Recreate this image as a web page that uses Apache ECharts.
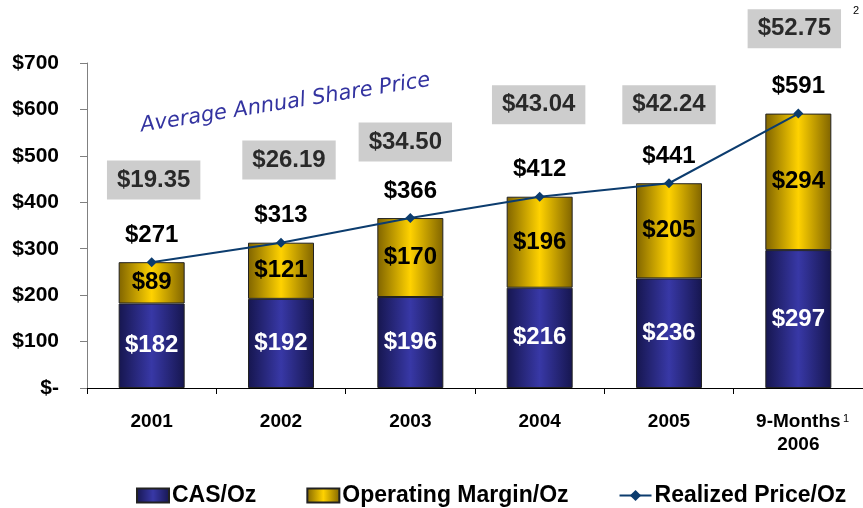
<!DOCTYPE html>
<html>
<head>
<meta charset="utf-8">
<script src="https://cdn.jsdelivr.net/npm/echarts@6/dist/echarts.min.js"></script>
<style>
html,body{margin:0;padding:0;background:#fff;}
#c{width:863px;height:508px;}
</style>
</head>
<body>
<div id="c"></div>
<script>
var categories = ['2001', '2002', '2003', '2004', '2005', '9-Months\n2006'];
var casOz = [182, 192, 196, 216, 236, 297];
var marginOz = [89, 121, 170, 196, 205, 294];
var realizedPrice = [271, 313, 366, 412, 441, 591];
var sharePrice = ['$19.35', '$26.19', '$34.50', '$43.04', '$42.24', '$52.75'];
var yTicks = [0, 100, 200, 300, 400, 500, 600, 700];

// layout for the share-price boxes (value-axis height and pixel nudge)
var boxLevel = [448, 491, 530, 610, 610, 774];
var boxNudge = [2, 8, -5, -1, 0, -4];

var chart = echarts.init(document.getElementById('c'));
var F = '"Liberation Sans", Arial, sans-serif';

function grad(edge, mid) {
  return new echarts.graphic.LinearGradient(0, 0, 1, 0, [
    {offset: 0, color: edge}, {offset: 0.5, color: mid}, {offset: 1, color: edge}
  ]);
}

var boxData = boxLevel.map(function (v, i) {
  return {
    value: [i, v],
    label: {formatter: sharePrice[i], offset: [boxNudge[i], 0]}
  };
});

chart.setOption({
  animation: false,
  grid: {left: 87, right: -4, top: 63, bottom: 120, containLabel: false},
  legend: {
    top: 479,
    left: 131,
    itemGap: 50,
    itemWidth: 32,
    itemHeight: 14,
    textStyle: {fontFamily: F, fontWeight: 'bold', fontSize: 23, color: '#000', padding: [0, 0, 0, -2]},
    data: [
      {name: 'CAS/Oz', icon: 'rect'},
      {name: 'Operating Margin/Oz', icon: 'rect'},
      {name: 'Realized Price/Oz'}
    ]
  },
  xAxis: {
    type: 'category',
    data: categories,
    axisLine: {lineStyle: {color: '#000', width: 1}},
    axisTick: {show: true, length: 6, lineStyle: {color: '#000'}},
    axisLabel: {
      fontFamily: F, fontWeight: 'bold', fontSize: 19, color: '#000',
      margin: 22, lineHeight: 23
    }
  },
  yAxis: {
    type: 'value',
    min: yTicks[0],
    max: yTicks[yTicks.length - 1],
    interval: 100,
    splitLine: {show: false},
    axisLine: {show: true, lineStyle: {color: '#808080'}},
    axisTick: {show: true, length: 7, lineStyle: {color: '#808080'}},
    axisLabel: {
      fontFamily: F, fontWeight: 'bold', fontSize: 21, color: '#000', margin: 28,
      formatter: function (v) { return v === 0 ? '$-' : '$' + v; }
    }
  },
  series: [
    {
      name: 'CAS/Oz',
      type: 'bar',
      stack: 'total',
      barWidth: 66,
      data: casOz,
      itemStyle: {color: grad('#16164f', '#3838a6'), borderColor: '#222', borderWidth: 1},
      label: {
        show: true, position: 'inside', color: '#fff',
        fontFamily: F, fontWeight: 'bold', fontSize: 24,
        formatter: function (p) { return '$' + p.value; }
      }
    },
    {
      name: 'Operating Margin/Oz',
      type: 'bar',
      stack: 'total',
      barWidth: 66,
      data: marginOz,
      itemStyle: {color: grad('#806400', '#ffd200'), borderColor: '#222', borderWidth: 1},
      label: {
        show: true, position: 'inside', color: '#000',
        fontFamily: F, fontWeight: 'bold', fontSize: 24,
        formatter: function (p) { return '$' + p.value; }
      }
    },
    {
      name: 'Realized Price/Oz',
      type: 'line',
      data: realizedPrice,
      z: 5,
      symbol: 'diamond',
      symbolSize: 10,
      lineStyle: {color: '#0c3c6e', width: 2},
      itemStyle: {color: '#0c3c6e'},
      label: {
        show: true, position: 'top', distance: 10, color: '#000',
        fontFamily: F, fontWeight: 'bold', fontSize: 24,
        formatter: function (p) { return '$' + p.value; }
      }
    },
    {
      name: 'share',
      type: 'scatter',
      data: boxData,
      symbolSize: 0,
      clip: false,
      silent: true,
      label: {
        show: true, position: 'inside',
        backgroundColor: '#c0c0c0',
        padding: [6, 10, 6, 10],
        color: '#000',
        fontFamily: F, fontWeight: 'bold', fontSize: 24, lineHeight: 27
      }
    }
  ],
  graphic: [
    {
      type: 'text', left: 139, top: 70, rotation: 9 * Math.PI / 180,
      style: {
        text: 'Average Annual Share Price',
        font: 'italic 21px "DejaVu Sans", Verdana, sans-serif',
        fill: '#3333a0'
      }
    },
    {
      type: 'text', left: 853, top: 5,
      style: {text: '2', font: '11px "Liberation Sans", Arial', fill: '#000'}
    },
    {
      type: 'text', left: 843, top: 413,
      style: {text: '1', font: '11px "Liberation Sans", Arial', fill: '#000'}
    }
  ]
});
</script>
</body>
</html>
